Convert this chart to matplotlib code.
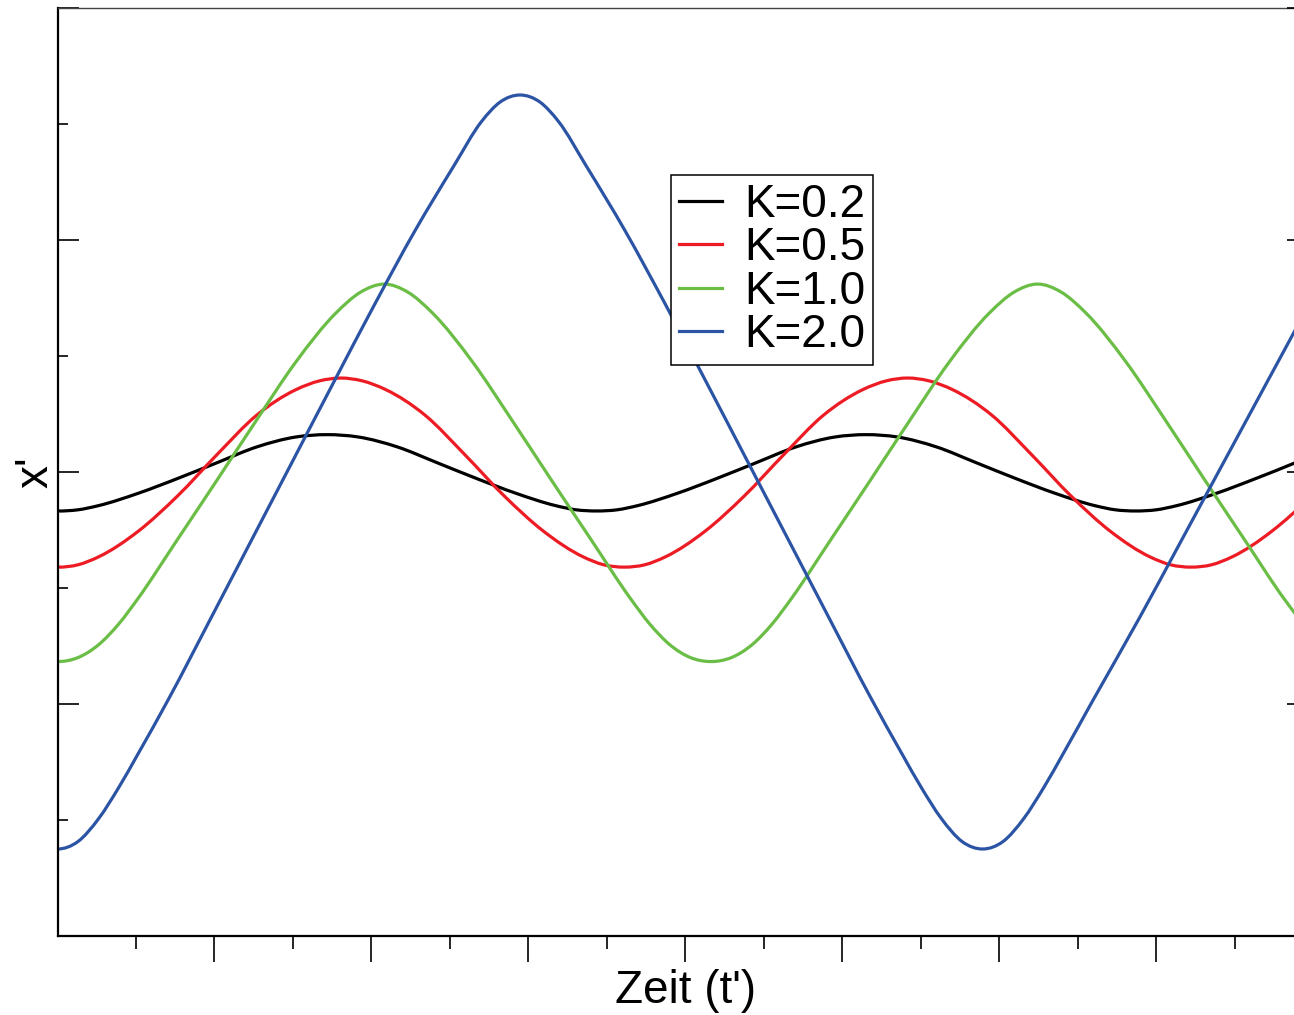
import numpy as np
import matplotlib
matplotlib.use('Agg')
import matplotlib.pyplot as plt
from matplotlib.path import Path
from matplotlib.patches import PathPatch
from matplotlib.lines import Line2D
from matplotlib.ticker import MultipleLocator, FixedLocator

plt.rcParams['font.family'] = ['Liberation Sans', 'DejaVu Sans']

# values (time t', displacement x')
t_k02 = [0.0, 0.13, 0.261, 0.513, 0.765, 1.016, 1.269, 1.519, 1.717,
         1.915, 2.165, 2.418, 2.669, 2.921, 3.173, 3.304, 3.434,
         3.564, 3.695, 3.947, 4.199, 4.45, 4.703, 4.953, 5.151,
         5.349, 5.599, 5.852, 6.103, 6.355, 6.607, 6.738, 6.868,
         6.998, 7.129, 7.381, 7.633, 7.884]
x_k02 = [-0.168, -0.163, -0.145, -0.092, -0.028, 0.040, 0.108, 0.151, 0.161,
         0.151, 0.108, 0.040, -0.028, -0.092, -0.145, -0.163, -0.168,
         -0.163, -0.145, -0.092, -0.028, 0.040, 0.108, 0.151, 0.161,
         0.151, 0.108, 0.040, -0.028, -0.092, -0.145, -0.163, -0.168,
         -0.163, -0.145, -0.092, -0.028, 0.040]

t_k05 = [0.0, 0.13, 0.261, 0.513, 0.765, 1.016, 1.269, 1.519, 1.67, 1.805,
         1.94, 2.091, 2.341, 2.594, 2.845, 3.097, 3.349, 3.48, 3.61,
         3.74, 3.871, 4.123, 4.375, 4.626, 4.879, 5.129, 5.28, 5.415,
         5.55, 5.701, 5.951, 6.204, 6.455, 6.707, 6.959, 7.09, 7.22,
         7.35, 7.481, 7.733, 7.985]
x_k05 = [-0.41, -0.40, -0.366, -0.256, -0.103, 0.075, 0.245, 0.355, 0.393, 0.405,
         0.393, 0.355, 0.245, 0.075, -0.103, -0.256, -0.366, -0.40, -0.41,
         -0.40, -0.366, -0.256, -0.103, 0.075, 0.245, 0.355, 0.393, 0.405,
         0.393, 0.355, 0.245, 0.075, -0.103, -0.256, -0.366, -0.40, -0.41,
         -0.40, -0.366, -0.256, -0.103]

t_k10 = [0.0, 0.13, 0.261, 0.39, 0.513, 0.765, 1.016, 1.269, 1.519, 1.773, 1.93, 2.081,
         2.232, 2.389, 2.643, 2.893, 3.146, 3.397, 3.649, 3.772, 3.901, 4.032, 4.162,
         4.292, 4.423, 4.552, 4.675, 4.927, 5.178, 5.431, 5.681, 5.935, 6.092, 6.243,
         6.394, 6.551, 6.805, 7.055, 7.308, 7.559, 7.811, 7.934]
x_k10 = [-0.817, -0.80, -0.745, -0.655, -0.545, -0.29, -0.035, 0.225, 0.475, 0.685, 0.775, 0.81,
         0.775, 0.685, 0.475, 0.225, -0.035, -0.29, -0.545, -0.655, -0.745, -0.80, -0.817,
         -0.80, -0.745, -0.655, -0.545, -0.29, -0.035, 0.225, 0.475, 0.685, 0.775, 0.81,
         0.775, 0.685, 0.475, 0.225, -0.035, -0.29, -0.545, -0.655]

t_k20 = [0.0, 0.13, 0.261, 0.39, 0.513, 0.704, 1.0, 1.25, 1.5, 1.767, 2.022, 2.277,
         2.525, 2.70, 2.82, 2.946,
         3.072, 3.192, 3.367, 3.615, 3.87, 4.125, 4.392, 4.642, 4.892, 5.188, 5.379,
         5.502, 5.631, 5.762, 5.892,
         6.022, 6.153, 6.282, 6.405, 6.596, 6.892, 7.142, 7.392, 7.659, 7.914]
x_k20 = [-1.625, -1.593, -1.495, -1.36, -1.215, -0.983, -0.60, -0.275, 0.05, 0.397, 0.725, 1.04,
         1.32, 1.51, 1.595, 1.625,
         1.595, 1.51, 1.32, 1.04, 0.725, 0.397, 0.05, -0.275, -0.60, -0.983, -1.215,
         -1.36, -1.495, -1.593, -1.625,
         -1.593, -1.495, -1.36, -1.215, -0.983, -0.628, -0.316, -0.003, 0.331, 0.65]

labels = ['K=0.2', 'K=0.5', 'K=1.0', 'K=2.0']
colors = ['#000000', '#ed1c24', '#6abd45', '#2b54a5']


def smooth_path(t, x):
    t = np.asarray(t, float)
    x = np.asarray(x, float)
    m = np.gradient(x, t, edge_order=2)
    verts = [(t[0], x[0])]
    codes = [Path.MOVETO]
    for i in range(len(t) - 1):
        h = t[i + 1] - t[i]
        verts += [(t[i] + h / 3, x[i] + m[i] * h / 3),
                  (t[i + 1] - h / 3, x[i + 1] - m[i + 1] * h / 3),
                  (t[i + 1], x[i + 1])]
        codes += [Path.CURVE4] * 3
    return Path(verts, codes)


fig = plt.figure(figsize=(12.94, 10.15), dpi=100)
# Achse geht rechts etwas über den Bildrand hinaus
ax = fig.add_axes([57.5 / 1294, 79 / 1015, 1256 / 1294, 928 / 1015])

series = [(t_k02, x_k02), (t_k05, x_k05), (t_k10, x_k10), (t_k20, x_k20)]
handles = []
for (t, x), lab, c in zip(series, labels, colors):
    ax.add_patch(PathPatch(smooth_path(t, x), facecolor='none', edgecolor=c,
                           linewidth=2.3, capstyle='butt', joinstyle='round'))
    handles.append(Line2D([], [], color=c, linewidth=2.3, label=lab))

ax.set_xlim(0, 8)
ax.set_ylim(-2, 2)

# Achsenstriche
ax.xaxis.set_major_locator(FixedLocator([1, 2, 3, 4, 5, 6, 7]))
ax.xaxis.set_minor_locator(FixedLocator([0.5, 1.5, 2.5, 3.5, 4.5, 5.5, 6.5, 7.5]))
ax.yaxis.set_major_locator(MultipleLocator(1))
ax.yaxis.set_minor_locator(MultipleLocator(0.5))
ax.tick_params(axis='x', which='major', direction='out', length=19, width=1.2,
               top=False, labelbottom=False)
ax.tick_params(axis='x', which='minor', direction='out', length=9, width=1.2,
               top=False)
ax.tick_params(axis='y', which='major', direction='in', length=15, width=1.2,
               right=False, labelleft=False)
ax.tick_params(axis='y', which='minor', direction='in', length=7.5, width=1.2,
               right=False)

# rechte Seite: nur Hauptstriche
ax2 = ax.twinx()
ax2.set_ylim(-2, 2)
ax2.yaxis.set_major_locator(MultipleLocator(1))
ax2.tick_params(axis='y', which='major', direction='in', length=19, width=1.2,
                labelright=False)
ax2.tick_params(axis='y', which='minor', right=False)
for s in ax2.spines.values():
    s.set_visible(False)

ax.spines['left'].set_linewidth(1.6)
ax.spines['bottom'].set_linewidth(1.6)
ax.spines['top'].set_linewidth(1.0)
ax.spines['top'].set_color('#444444')

ax.set_xlabel("Zeit (t')", fontsize=33, labelpad=5)
ax.set_ylabel("x'", fontsize=33, labelpad=0)

leg = ax.legend(handles=handles, loc='upper left',
                bbox_to_anchor=(671 / 1294, 1 - 175 / 1015),
                bbox_transform=fig.transFigure, borderaxespad=0,
                fontsize=33, handlelength=0.95, handletextpad=0.48,
                borderpad=0.17, labelspacing=-0.01, fancybox=False,
                edgecolor='black', framealpha=1)
leg.get_frame().set_linewidth(1.1)

plt.savefig('out.png', dpi=100)
